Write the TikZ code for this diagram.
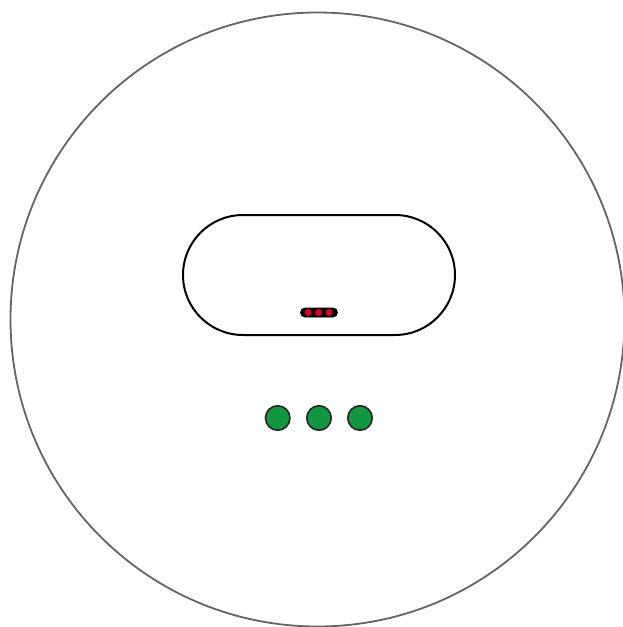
\documentclass[tikz,border=0pt]{standalone}
\definecolor{ledgreen}{RGB}{18,150,66}
\definecolor{ledred}{RGB}{215,0,30}
\definecolor{rimgray}{RGB}{100,100,100}
\begin{document}
\begin{tikzpicture}[x=1pt,y=-1pt,
  rim/.style={draw=rimgray,line width=1.8pt},
  panel/.style={draw=black,line width=2pt,rounded corners=60pt},
  greenled/.style={circle,draw=black!85,line width=1.6pt,fill=ledgreen,minimum size=24.5pt,inner sep=0pt},
  redled/.style={circle,fill=ledred,minimum size=7.2pt,inner sep=0pt},
  ledbar/.style={draw=black,fill=black,line width=0.8pt,rounded corners=4.5pt}]
\useasboundingbox (0,0) rectangle (623,627);
\draw[rim] (317.5,319.5) circle (307);
\draw[panel] (183,215) rectangle (455,335);
\draw[ledbar] (300.5,308) rectangle (337.5,317);
\node[redled] (r1) at (308,312.5) {};
\node[redled] (r2) at (318.5,312.5) {};
\node[redled] (r3) at (329,312.5) {};
\node[greenled] (g1) at (277.7,418) {};
\node[greenled] (g2) at (319,418) {};
\node[greenled] (g3) at (360,418) {};
\end{tikzpicture}
\end{document}
